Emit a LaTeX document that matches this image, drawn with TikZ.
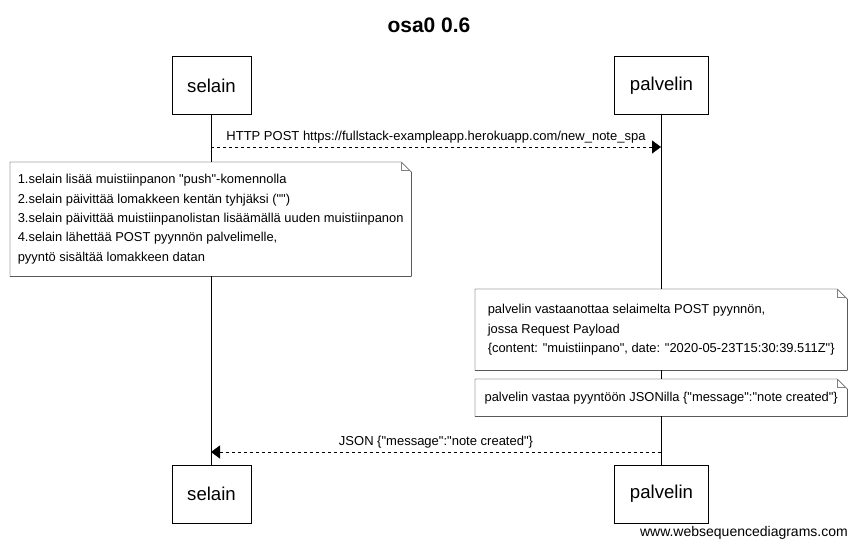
\documentclass[tikz,border=0pt]{standalone}
\usepackage{fontspec}
\setmainfont{Liberation Sans}
\newfontfamily\plainsans{Liberation Sans}
\usetikzlibrary{arrows.meta, positioning}

% outline of a note with a folded corner
\newcommand{\notefold}[1]{%
  \draw (#1.north west) -- ([xshift=-10pt]#1.north east) -- ([yshift=-10pt]#1.north east) -- (#1.south east) -- (#1.south west) -- cycle;
  \draw[gray] ([xshift=-10pt]#1.north east) -- ([xshift=-10pt,yshift=-8pt]#1.north east) -- ([xshift=-2pt,yshift=-8pt]#1.north east);
}

\begin{document}
\begin{tikzpicture}[
        x=1pt, y=-1pt,
        actor/.style={draw, fill=white, minimum height=58pt, inner sep=0pt, font=\plainsans\fontsize{18.6}{21}\selectfont},
        note/.style={fill=white, anchor=north west, align=left, inner sep=0pt, font=\plainsans\fontsize{12.9}{19.3}\selectfont},
        msg/.style={dashed, -{Triangle[length=9pt, width=13pt]}},
        every node/.style={font=\plainsans\fontsize{13}{15}\selectfont}
    ]
        \useasboundingbox (0,0) rectangle (857,547);

        \node[font=\plainsans\bfseries\fontsize{21}{24}\selectfont] (title) at (429,25) {osa0 0.6};

        \node[actor, minimum width=79pt] (selT) at (211.5,85.5) {selain};
        \node[actor, minimum width=94pt] (palT) at (661.5,85.5) {palvelin};
        \node[actor, minimum width=79pt] (selB) at (211.5,494) {selain};
        \node[actor, minimum width=94pt] (palB) at (661.5,494) {palvelin};

        \draw (selT) -- (selB);
        \draw (palT) -- (palB);

        \coordinate (p1s) at (211,147);
        \coordinate (p1e) at (661,147);
        \draw[msg] (p1s) -- node[above=0pt] (m1) {HTTP POST https://fullstack-exampleapp.herokuapp.com/new\_note\_spa} (p1e);

        \node[note, minimum width=401pt, minimum height=114pt] (n1) at (10,162)
            {1.selain lisää muistiinpanon "push"-komennolla\\
             2.selain päivittää lomakkeen kentän tyhjäksi ("")\\
             3.selain päivittää muistiinpanolistan lisäämällä uuden muistiinpanon\\
             4.selain lähettää POST pyynnön palvelimelle,\\
             pyyntö sisältää lomakkeen datan};
        \notefold{n1}

        \node[note, minimum width=372pt, minimum height=81pt] (n2) at (475,289)
            {palvelin vastaanottaa selaimelta POST pyynnön,\\
             jossa Request Payload\\
             \{content: "muistiinpano", date: "2020-05-23T15:30:39.511Z"\}};
        \notefold{n2}

        \node[note, minimum width=372pt, minimum height=37pt] (n3) at (475,379)
            {palvelin vastaa pyyntöön JSONilla \{"message":"note created"\}};
        \notefold{n3}

        \coordinate (p2s) at (661,452);
        \coordinate (p2e) at (211,452);
        \draw[msg] (p2s) -- node[above=0pt] (m2) {JSON \{"message":"note created"\}} (p2e);

        \node[anchor=base east, inner sep=0pt, font=\plainsans\fontsize{14}{16}\selectfont] (wsd) at (848,536) {www.websequencediagrams.com};
    \end{tikzpicture}
\end{document}
